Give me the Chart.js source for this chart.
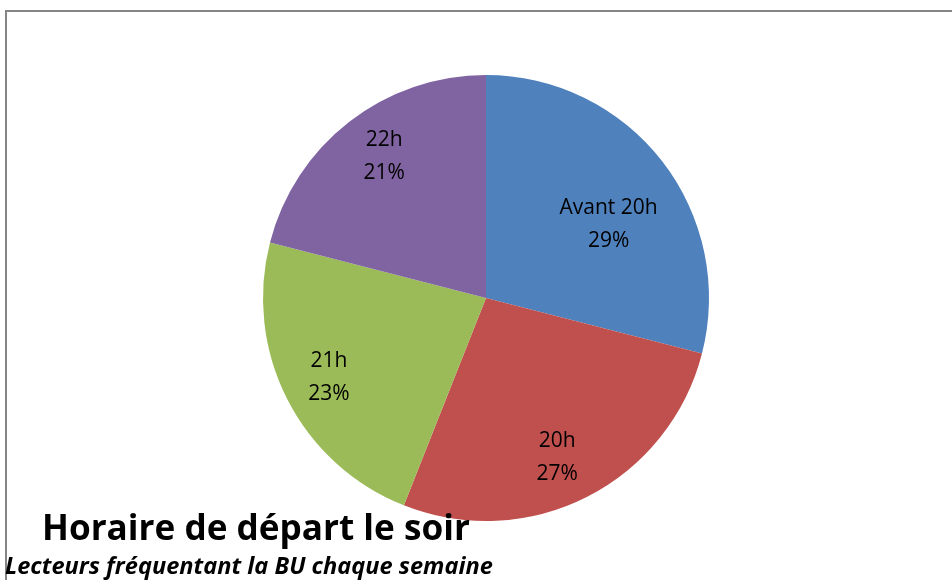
<!DOCTYPE html>
<html>
<head>
<meta charset="utf-8">
<script src="https://cdn.jsdelivr.net/npm/chart.js@4/dist/chart.umd.min.js"></script>
<style>
html,body{margin:0;padding:0;background:#fff;}
#wrap{width:952px;height:580px;position:relative;}
</style>
</head>
<body>
<div id="wrap"><canvas id="c" width="952" height="580"></canvas></div>
<script>
const categories = ["Avant 20h", "20h", "21h", "22h"];
const percentages = [29, 27, 23, 21];
const sliceColors = ["#4F81BD", "#C0504D", "#9BBB59", "#8064A2"];
const titleText = "Horaire de départ le soir";
const subtitleText = "Lecteurs fréquentant la BU chaque semaine";

const FONT = "'Open Sans', 'Noto Sans', sans-serif";

const framePlugin = {
  id: 'frame',
  beforeDraw(chart) {
    const ctx = chart.ctx;
    ctx.save();
    ctx.fillStyle = '#ffffff';
    ctx.fillRect(0, 0, chart.width, chart.height);
    ctx.strokeStyle = '#858585';
    ctx.lineWidth = 2;
    ctx.beginPath();
    ctx.moveTo(6, chart.height);
    ctx.lineTo(6, 11);
    ctx.lineTo(chart.width, 11);
    ctx.stroke();
    ctx.restore();
  }
};

// per-slice label placement: [radius fraction, angular offset in degrees]
const labelPlacement = [[0.64, 7], [0.785, 3], [0.79, 0], [0.78, 2]];

const labelPlugin = {
  id: 'sliceLabels',
  afterDatasetsDraw(chart) {
    const ctx = chart.ctx;
    const meta = chart.getDatasetMeta(0);
    ctx.save();
    ctx.fillStyle = '#000';
    ctx.textAlign = 'center';
    ctx.textBaseline = 'middle';
    ctx.font = "21px " + FONT;
    meta.data.forEach((arc, i) => {
      const p = arc.getProps(['x', 'y', 'startAngle', 'endAngle', 'outerRadius'], true);
      const mid = (p.startAngle + p.endAngle) / 2 + labelPlacement[i][1] * Math.PI / 180;
      const r = p.outerRadius * labelPlacement[i][0];
      const cx = p.x + Math.cos(mid) * r;
      const cy = p.y + Math.sin(mid) * r;
      ctx.fillText(categories[i], cx, cy - 16.5);
      ctx.fillText(percentages[i] + '%', cx, cy + 16.5);
    });
    ctx.restore();
  },
  afterDraw(chart) {
    const ctx = chart.ctx;
    ctx.save();
    ctx.fillStyle = '#000';
    ctx.textAlign = 'left';
    ctx.textBaseline = 'alphabetic';
    // title
    let size = 30;
    ctx.font = "bold " + size + "px " + FONT;
    let w = ctx.measureText(titleText).width;
    size = size * 428 / w;
    ctx.font = "bold " + size.toFixed(2) + "px " + FONT;
    ctx.fillText(titleText, 42, 540);
    // subtitle
    size = 20;
    ctx.font = "italic bold " + size + "px " + FONT;
    w = ctx.measureText(subtitleText).width;
    size = size * 488 / w;
    ctx.font = "italic bold " + size.toFixed(2) + "px " + FONT;
    ctx.fillText(subtitleText, 5, 574);
    ctx.restore();
  }
};

new Chart(document.getElementById('c'), {
  type: 'pie',
  data: {
    labels: categories,
    datasets: [{
      data: percentages,
      backgroundColor: sliceColors,
      borderWidth: 0
    }]
  },
  options: {
    responsive: false,
    animation: false,
    layout: { padding: { top: 75, bottom: 59, left: 263, right: 243 } },
    plugins: {
      legend: { display: false },
      title: { display: false },
      tooltip: { enabled: false }
    }
  },
  plugins: [framePlugin, labelPlugin]
});
</script>
</body>
</html>
